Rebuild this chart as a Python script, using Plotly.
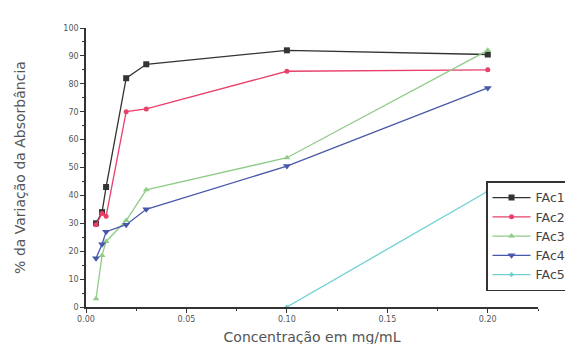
import plotly.graph_objects as go

x_main = [0.005, 0.008, 0.01, 0.02, 0.03, 0.1, 0.2]
fac1 = [30, 34, 43, 82, 87, 92, 90.5]
fac2 = [29.5, 33.5, 32.5, 70, 71, 84.5, 85]
fac3 = [3, 18.5, 23.5, 31, 42, 53.5, 92]
fac4 = [17.5, 22.5, 27, 29.5, 35, 50.5, 78.5]
x_fac5 = [0.1, 0.2]
fac5 = [0, 41.5]

series = [
    ("FAc1", x_main, fac1, "#333333", "square", 6),
    ("FAc2", x_main, fac2, "#e8406a", "circle", 5),
    ("FAc3", x_main, fac3, "#90cc88", "triangle-up", 6),
    ("FAc4", x_main, fac4, "#4858a8", "triangle-down", 7),
    ("FAc5", x_fac5, fac5, "#70d0d0", "diamond", 4),
]

fig = go.Figure()
for name, xs, ys, col, sym, sz in series:
    fig.add_trace(go.Scatter(
        x=xs, y=ys, name=name, mode="lines+markers",
        line=dict(color=col, width=1.3),
        marker=dict(symbol=sym, size=sz, color=col),
    ))

axis_font = dict(family="DejaVu Sans", size=8, color="#555555")
fig.update_layout(
    width=573, height=344,
    margin=dict(l=78, r=43, t=20, b=45, autoexpand=False),
    paper_bgcolor="white", plot_bgcolor="white",
    font=dict(family="DejaVu Sans", color="#555555"),
    xaxis=dict(
        range=[0, 0.225], tickvals=[0, 0.05, 0.1, 0.15, 0.2],
        ticktext=["0.00", "0.05", "0.10", "0.15", "0.20"],
        showgrid=False, zeroline=False, showline=True, linecolor="#333333", linewidth=1.5,
        ticks="outside", ticklen=4, tickcolor="#333333", tickfont=axis_font,
        minor=dict(dtick=0.025, ticks="outside", ticklen=2, tickcolor="#333333"),
        title=dict(text="Concentração em mg/mL", font=dict(size=14, color="#555555"), standoff=9),
    ),
    yaxis=dict(
        range=[0, 100], tickvals=list(range(0, 101, 10)),
        showgrid=False, zeroline=False, showline=True, linecolor="#333333", linewidth=1.5,
        ticks="outside", ticklen=4, tickcolor="#333333", tickfont=axis_font,
        minor=dict(dtick=5, ticks="outside", ticklen=2, tickcolor="#333333"),
        title=dict(text="% da Variação da Absorbância", font=dict(size=14, color="#555555"), standoff=34),
    ),
    legend=dict(
        x=0.885, y=0.45, xanchor="left", yanchor="top",
        bgcolor="white", bordercolor="#333333", borderwidth=1.5,
        font=dict(family="DejaVu Sans", size=12.5, color="#444444"),
        tracegroupgap=0, itemwidth=38,
    ),
)

fig.write_html("out.html")
